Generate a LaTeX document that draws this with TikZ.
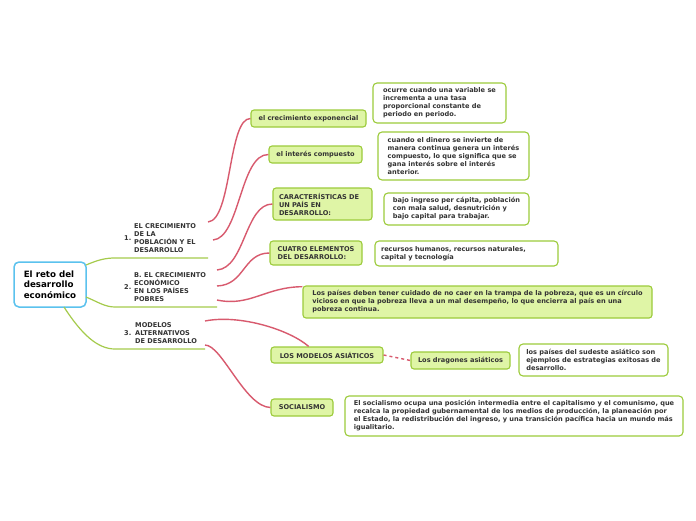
\documentclass[tikz,border=0pt]{standalone}
\usepackage{fontspec}
\setmainfont{DejaVu Sans}
\definecolor{redl}{HTML}{D85A6E}
\definecolor{greenl}{HTML}{A5CB4C}
\definecolor{gfill}{HTML}{DFF5A6}
\definecolor{gborder}{HTML}{9CCB3B}
\definecolor{blueb}{HTML}{5BC2EE}
\definecolor{txt}{HTML}{333333}
\newcommand{\fsmall}{\fontsize{6.6}{8}\selectfont\bfseries}
\newcommand{\froot}{\fontsize{8.7}{10.5}\selectfont\bfseries}
\begin{document}
\begin{tikzpicture}[x=1pt,y=-1pt,
  gbox/.style={draw=gborder, fill=gfill, rounded corners=3pt, line width=1.1pt, font=\fsmall, text=txt, align=left, inner xsep=6pt, inner ysep=1pt},
  wbox/.style={draw=gborder, fill=white, rounded corners=4pt, line width=1.1pt, font=\fsmall, text=txt, align=left, inner xsep=6pt, inner ysep=1pt},
  blabel/.style={font=\fsmall, text=txt, align=left, inner sep=0pt, anchor=west},
  redc/.style={draw=redl, line width=1.4pt},
  greenc/.style={draw=greenl, line width=1.2pt}]
\useasboundingbox[fill=white] (0,0) rectangle (696,520);

% root
\node[draw=blueb, line width=1.5pt, rounded corners=5pt, fill=white, font=\froot, text=black, align=left, minimum width=72pt, minimum height=45pt, inner sep=2pt] (root) at (50,284.5) {El reto del\\desarrollo\\económico};

% branch labels
\node[blabel] (n1) at (124,238) {1.};
\node[blabel] (b1) at (134,238) {EL CRECIMIENTO\\DE LA\\POBLACIÓN Y EL\\DESARROLLO};
\node[blabel] (n2) at (124,287.5) {2.};
\node[blabel] (b2) at (134,287.5) {B. EL CRECIMIENTO\\ECONÓMICO\\EN LOS PAÍSES\\POBRES};
\node[blabel] (n3) at (124,333) {3.};
\node[blabel] (b3) at (135,333) {MODELOS\\ALTERNATIVOS\\DE DESARROLLO};

% green nodes
\node[gbox, minimum width=115pt, minimum height=17pt] (exp) at (308.5,118.5) {el crecimiento exponencial};
\node[gbox, minimum width=93pt, minimum height=17pt] (int) at (315.5,154.5) {el interés compuesto};
\node[gbox, minimum width=99pt, minimum height=32pt, text width=87pt] (car) at (322.5,204) {CARACTERÍSTICAS DE\\UN PAÍS EN\\DESARROLLO:};
\node[gbox, minimum width=92pt, minimum height=24pt] (cua) at (316,253) {CUATRO ELEMENTOS\\DEL DESARROLLO:};
\node[gbox, minimum width=349pt, minimum height=32pt] (pob) at (477.5,302) {Los países deben tener cuidado de no caer en la trampa de la pobreza, que es un círculo\\vicioso en que la pobreza lleva a un mal desempeño, lo que encierra al país en una\\pobreza continua.};
\node[gbox, minimum width=112pt, minimum height=16pt] (asia) at (327,355) {LOS MODELOS ASIÁTICOS};
\node[gbox, minimum width=99pt, minimum height=17pt] (drag) at (460.5,360.5) {Los dragones asiáticos};
\node[gbox, minimum width=62pt, minimum height=17pt] (soc) at (302,407.5) {SOCIALISMO};

% white nodes
\node[wbox, minimum width=133pt, minimum height=40pt] (ocu) at (439.5,103) {ocurre cuando una variable se\\incrementa a una tasa\\proporcional constante de\\periodo en periodo.};
\node[wbox, minimum width=151pt, minimum height=48pt] (cdo) at (453.5,156) {cuando el dinero se invierte de\\manera continua genera un interés\\compuesto, lo que significa que se\\gana interés sobre el interés\\anterior.};
\node[wbox, minimum width=145pt, minimum height=32pt] (baj) at (456.5,209) {bajo ingreso per cápita, población\\con mala salud, desnutrición y\\bajo capital para trabajar.};
\node[wbox, minimum width=183pt, minimum height=25pt, text width=171pt] (rec) at (466.5,253.5) {recursos humanos, recursos naturales,\\capital y tecnología};
\node[wbox, minimum width=149pt, minimum height=32pt] (sud) at (593.5,360) {los países del sudeste asiático son\\ejemplos de estrategias exitosas de\\desarrollo.};
\node[wbox, minimum width=338pt, minimum height=40pt] (sol) at (514,416) {El socialismo ocupa una posición intermedia entre el capitalismo y el comunismo, que\\recalca la propiedad gubernamental de los medios de producción, la planeación por\\el Estado, la redistribución del ingreso, y una transición pacífica hacia un mundo más\\igualitario.};

% coordinates
\coordinate (r1) at (86,265);
\coordinate (r2) at (86,297);
\coordinate (r3) at (64,307);
\coordinate (u1s) at (115,258);
\coordinate (u1e) at (208,258);
\coordinate (u2s) at (115,307);
\coordinate (u2e) at (217,307);
\coordinate (u3s) at (115,349);
\coordinate (u3e) at (205,349);
\coordinate (s1) at (208,222);
\coordinate (s2) at (213,240);
\coordinate (s3) at (217,270);
\coordinate (s4) at (217,286);
\coordinate (s5) at (217,300);
\coordinate (s6) at (205,321);
\coordinate (s7) at (205,345);

% green connectors
\draw[greenc] (r1) .. controls (98,260) and (105,258) .. (u1s) -- (u1e);
\draw[greenc] (r2) .. controls (98,302) and (105,307) .. (u2s) -- (u2e);
\draw[greenc] (r3) .. controls (82,335) and (98,349) .. (u3s) -- (u3e);

% red connectors
\draw[redc] (s1) .. controls (232,220) and (228,118) .. (exp.west);
\draw[redc] (s2) .. controls (240,238) and (240,154) .. (int.west);
\draw[redc] (s3) .. controls (245,268) and (245,204) .. (car.west);
\draw[redc] (s4) .. controls (245,285) and (243,253) .. (cua.west);
\draw[redc] (s5) .. controls (250,307) and (265,287) .. (pob.175);
\draw[redc] (s6) .. controls (240,314) and (290,330) .. (asia.155);
\draw[redc] (s7) .. controls (222,345) and (245,407) .. (soc.west);
\draw[redc, dash pattern=on 3pt off 3pt] (asia.east) -- (drag.west);
\end{tikzpicture}
\end{document}
